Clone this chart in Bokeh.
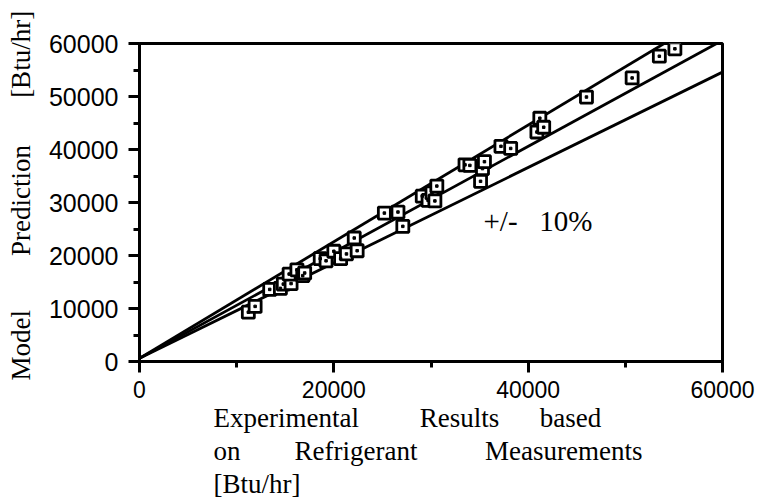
from bokeh.plotting import figure
from bokeh.models import Label, Range1d, SingleIntervalTicker, ColumnDataSource, Title
from bokeh.embed import file_html
from bokeh.resources import INLINE

# Data (Btu/hr)
experimental = [11200, 11900, 13400, 14500, 14800, 15600, 15400, 16200, 16800, 17000,
                18600, 19200, 20000, 20700, 21300, 22100, 22400, 25200, 26600, 27100,
                29100, 29700, 30100, 30600, 30400, 33500, 34000, 35300, 35500, 35100,
                37200, 38200, 40900, 41200, 41600, 46000, 50700, 53500, 55100]
predicted = [9300, 10400, 13600, 13800, 14600, 14700, 16500, 17300, 16200, 16700,
             19400, 19000, 20800, 19400, 20300, 23300, 20900, 28000, 28200, 25500,
             31200, 30400, 31800, 33100, 30300, 37100, 37000, 36400, 37700, 34000,
             40600, 40200, 43300, 45900, 44200, 49900, 53500, 57600, 59000]

line_x = [0, 60000]
line_slopes = [1.1, 1.0, 0.9]
line_offset = 600

x_ticks_interval = 20000
y_ticks_interval = 10000

nb = "\u00a0"
x_title_lines = ["Experimental" + nb * 9 + "Results" + nb * 6 + "based",
                 "on" + nb * 8 + "Refrigerant" + nb * 10 + "Measurements",
                 "[Btu/hr]"]
y_title = nb * 2 + "Model" + nb * 8 + "Prediction" + nb * 7 + "[Btu/hr]"
band_text = "+/-" + nb * 3 + "10%"

p = figure(width=762, height=502, x_range=Range1d(0, 60000), y_range=Range1d(0, 60000),
           output_backend="svg", toolbar_location=None,
           min_border_left=139, min_border_right=40, min_border_top=43, min_border_bottom=141)
p.background_fill_color = "white"
p.border_fill_color = "white"
p.grid.visible = False
p.outline_line_color = "black"
p.outline_line_width = 3

for ax, interval, fs in ((p.xaxis, x_ticks_interval, "23px"), (p.yaxis, y_ticks_interval, "25px")):
    ax.ticker = SingleIntervalTicker(interval=interval, num_minor_ticks=2)
    ax.axis_line_width = 3
    ax.major_tick_line_width = 3
    ax.minor_tick_line_width = 3
    ax.major_tick_out = 11
    ax.major_tick_in = 0
    ax.minor_tick_out = 6
    ax.minor_tick_in = 0
    ax.major_label_text_font = "Liberation Sans"
    ax.major_label_text_font_size = fs
    ax.major_label_text_color = "black"
p.xaxis.major_label_standoff = 8
p.yaxis.major_label_standoff = 10

p.yaxis.axis_label = y_title
p.yaxis.axis_label_text_font = "Liberation Serif"
p.yaxis.axis_label_text_font_size = "27px"
p.yaxis.axis_label_text_font_style = "normal"
p.yaxis.axis_label_text_color = "black"
p.yaxis.axis_label_standoff = 10

for txt in x_title_lines:
    p.add_layout(Title(text=txt, align="left", offset=74, text_font="Liberation Serif",
                       text_font_size="27px", text_font_style="normal", text_color="black",
                       standoff=1), "below")

for s in line_slopes:
    p.line(line_x, [s * v + line_offset for v in line_x], line_color="black", line_width=2.8)

src = ColumnDataSource(dict(x=experimental, y=predicted))
p.scatter("x", "y", source=src, marker="square", size=12, line_color="black",
          line_width=2.8, fill_color="white")
p.scatter("x", "y", source=src, marker="square", size=2.5, line_color="black",
          fill_color="black", line_width=1)

p.add_layout(Label(x=35400, y=26600, text=band_text,
                   text_font="Liberation Serif", text_font_size="29px", text_color="black",
                   text_align="left", text_baseline="alphabetic"))

open("out.html", "w").write(file_html(p, INLINE))
